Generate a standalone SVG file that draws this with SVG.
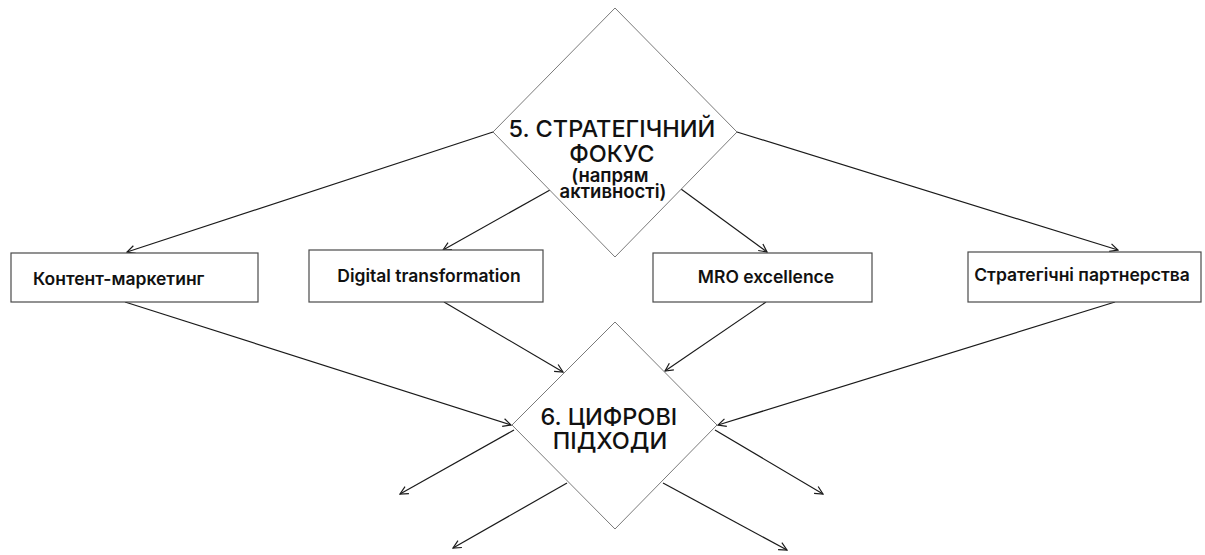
<svg xmlns="http://www.w3.org/2000/svg" width="1205" height="555" viewBox="0 0 1205 555">
  <style>
    .diamond { fill: #ffffff; stroke: #7a7a7a; stroke-width: 1; }
    .box { fill: #ffffff; stroke: #4a4a4a; stroke-width: 1.2; }
    .big { font-family: Inter, "Noto Sans", sans-serif; font-size: 23.5px; font-weight: 500; fill: #111; text-anchor: middle; }
    .small { font-size: 18.5px; font-weight: 600; }
    .label { font-family: Inter, "Noto Sans", sans-serif; font-size: 17.5px; font-weight: 600; fill: #111; }
    .link { stroke: #1a1a1a; stroke-width: 1.2; fill: none; marker-end: url(#arrow); }
  </style>
  <defs>
    <marker id="arrow" viewBox="0 0 10 10" refX="9" refY="5" markerWidth="10" markerHeight="10" markerUnits="userSpaceOnUse" orient="auto">
      <path d="M1,1 L9,5 L1,9" fill="none" stroke="#1a1a1a" stroke-width="1.2"/>
    </marker>
  </defs>

  <rect width="1205" height="555" fill="#ffffff"/>

  <!-- connectors -->
  <g id="connectors">
    <line class="link" x1="493" y1="132" x2="127" y2="252"/>
    <line class="link" x1="550" y1="190" x2="443" y2="250"/>
    <line class="link" x1="681" y1="189" x2="767" y2="252"/>
    <line class="link" x1="737" y1="132" x2="1118" y2="250"/>
    <line class="link" x1="125" y1="302" x2="511" y2="425"/>
    <line class="link" x1="444" y1="302" x2="563" y2="372"/>
    <line class="link" x1="766" y1="302" x2="665" y2="371"/>
    <line class="link" x1="1115" y1="302" x2="718" y2="425"/>
    <line class="link" x1="514" y1="430" x2="400" y2="494"/>
    <line class="link" x1="567" y1="483" x2="453" y2="548"/>
    <line class="link" x1="715" y1="430" x2="823" y2="494"/>
    <line class="link" x1="663" y1="483" x2="787" y2="550"/>
  </g>

  <!-- strategic focus decision -->
  <g id="node-strategic-focus">
    <polygon class="diamond" points="615,8 737,132 615,257 493,132"/>
    <text class="big">
      <tspan x="615" y="137">5. СТРАТЕГІЧНИЙ</tspan>
      <tspan x="615" y="162">ФОКУС</tspan>
      <tspan class="small" x="613" y="182">(напрям</tspan>
      <tspan class="small" x="613" y="198">активності)</tspan>
    </text>
  </g>

  <g id="node-content-marketing">
    <rect class="box" x="11" y="253" width="247" height="49"/>
    <text class="label" x="33" y="285">Контент-маркетинг</text>
  </g>

  <g id="node-digital-transformation">
    <rect class="box" x="309" y="250" width="234" height="52"/>
    <text class="label" x="429" y="282" text-anchor="middle">Digital transformation</text>
  </g>

  <g id="node-mro-excellence">
    <rect class="box" x="653" y="253" width="219" height="49"/>
    <text class="label" x="766" y="283" text-anchor="middle">MRO excellence</text>
  </g>

  <g id="node-strategic-partnerships">
    <rect class="box" x="968" y="252" width="233" height="50"/>
    <text class="label" x="1082" y="281" text-anchor="middle">Стратегічні партнерства</text>
  </g>

  <!-- digital approaches decision -->
  <g id="node-digital-approaches">
    <polygon class="diamond" points="615,322 717,425 615,529 512,425"/>
    <text class="big">
      <tspan x="612" y="425">6. ЦИФРОВІ</tspan>
      <tspan x="610" y="449">ПІДХОДИ</tspan>
    </text>
  </g>
</svg>
